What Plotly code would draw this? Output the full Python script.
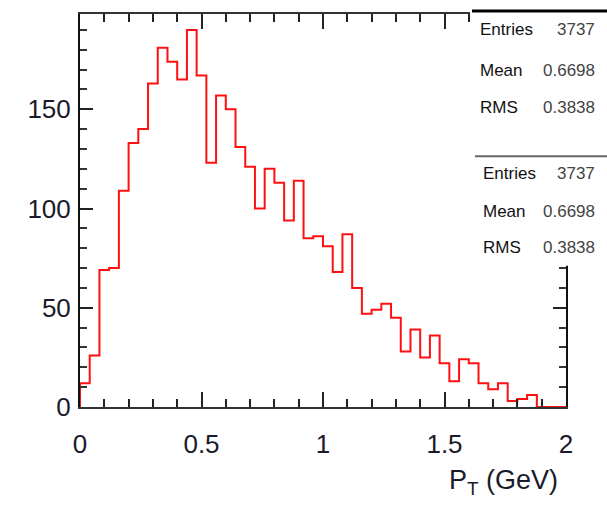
import numpy as np
import plotly.graph_objects as go

# ---- data ----
x_min, x_max, n_bins = 0.0, 2.0, 50
counts = [12, 26, 69, 70, 109, 133, 140, 163, 181, 174,
          165, 190, 167, 123, 157, 150, 131, 121, 100, 120,
          113, 94, 114, 85, 86, 81, 68, 87, 60, 47,
          49, 52, 45, 28, 39, 25, 36, 22, 13, 24,
          22, 12, 9, 12, 3, 4, 6, 0, 0, 0]
x_ticks = [0, 0.5, 1, 1.5, 2]
x_ticklabels = ["0", "0.5", "1", "1.5", "2"]
y_ticks = [0, 50, 100, 150]
y_ticklabels = ["0", "50", "100", "150"]
stats_labels = ["Entries", "Mean", "RMS"]
stats_values = ["3737", "0.6698", "0.3838"]
x_title = "P<sub>T</sub> (GeV)"

edges = np.linspace(x_min, x_max, n_bins + 1)
xs = [edges[0]] + list(edges)
ys = [0] + list(counts) + [counts[-1]]

W, H = 607, 507
L, R, T, B = 80, 41, 12, 100
pw, ph = W - L - R, H - T - B


def px(xp):
    return (xp - L) / pw


def py(yp):
    return (H - B - yp) / ph


fig = go.Figure()
fig.add_trace(go.Scatter(x=xs, y=ys, mode="lines", line=dict(color="#ff1010", width=2, shape="hv"),
                         hoverinfo="skip", showlegend=False))

tick_font = dict(family="Liberation Sans, Arial, sans-serif", size=26, color="#1a1a2a")

fig.update_layout(
    width=W, height=H, margin=dict(l=L, r=R, t=T, b=B),
    paper_bgcolor="white", plot_bgcolor="white", showlegend=False,
    xaxis=dict(range=[x_min, x_max], tickvals=x_ticks, ticktext=x_ticklabels, ticks="inside",
               ticklen=15, tickwidth=2, tickcolor="#222", showline=True, linecolor="#333", linewidth=2,
               mirror="ticks", showgrid=False, zeroline=False, tickfont=tick_font, ticklabelstandoff=13,
               minor=dict(dtick=0.1, ticks="inside", ticklen=8, tickwidth=2, tickcolor="#222", showgrid=False)),
    yaxis=dict(range=[0, 198], tickvals=y_ticks, ticktext=y_ticklabels, ticks="inside",
               ticklen=13, tickwidth=2, tickcolor="#222", showline=True, linecolor="#111", linewidth=2,
               mirror="ticks", showgrid=False, zeroline=False, tickfont=tick_font, ticklabelstandoff=2,
               minor=dict(dtick=10, ticks="inside", ticklen=7, tickwidth=2, tickcolor="#333", showgrid=False)),
)

# stats boxes
fig.add_shape(type="rect", xref="paper", yref="paper", x0=px(470), x1=px(608), y0=py(265), y1=py(8),
              fillcolor="white", line=dict(width=0), layer="above")
fig.add_shape(type="line", xref="paper", yref="paper", x0=px(472), x1=px(608), y0=py(9), y1=py(9),
              line=dict(color="black", width=3), layer="above")
fig.add_shape(type="line", xref="paper", yref="paper", x0=px(475), x1=px(608), y0=py(155), y1=py(155),
              line=dict(color="#666", width=2), layer="above")

stat_font = dict(family="Liberation Sans, Arial, sans-serif", size=17, color="#111")
val_font = dict(family="Liberation Sans, Arial, sans-serif", size=17, color="#444")
rows1 = [28, 69, 106]
rows2 = [172, 211, 247]
for rows, xl in ((rows1, 478), (rows2, 481)):
    for lab, val, yy in zip(stats_labels, stats_values, rows):
        fig.add_annotation(xref="paper", yref="paper", x=px(xl), y=py(yy), text=lab, showarrow=False,
                           xanchor="left", yanchor="middle", font=stat_font)
        fig.add_annotation(xref="paper", yref="paper", x=px(597), y=py(yy), text=val, showarrow=False,
                           xanchor="right", yanchor="middle", font=val_font)

fig.add_annotation(xref="paper", yref="paper", x=px(560), y=py(482), text=x_title, showarrow=False,
                   xanchor="right", yanchor="middle",
                   font=dict(family="Liberation Sans, Arial, sans-serif", size=27, color="#1a1a2a"))

fig.write_html("out.html")
